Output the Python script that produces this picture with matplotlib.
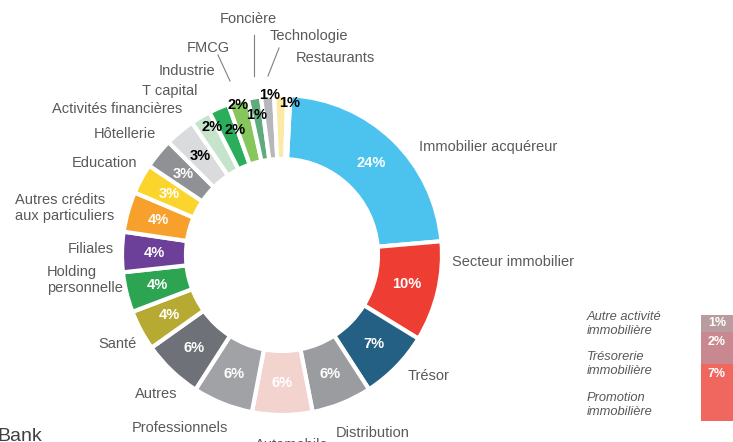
import numpy as np
import matplotlib.pyplot as plt

plt.rcParams["font.family"] = ["Liberation Sans", "DejaVu Sans"]

# Sector breakdown (clockwise from the top)
sectors = ["Immobilier acquéreur", "Secteur immobilier", "Trésor", "Distribution",
           "Automobile", "Professionnels", "Autres", "Santé", "Holding\npersonnelle",
           "Filiales", "Autres crédits\naux particuliers", "Education", "Hôtellerie",
           "Activités financières", "T capital", "Industrie", "FMCG", "Foncière",
           "Technologie", "Restaurants", ""]
shares = [22.5, 10, 7, 6, 6, 6, 6, 4, 4, 4, 4, 3, 3, 3, 2, 2, 2, 1.3, 1.3, 1.3, 0.3]
share_labels = ["24%", "10%", "7%", "6%", "6%", "6%", "6%", "4%", "4%", "4%", "4%",
                "3%", "3%", "3%", "2%", "2%", "2%", "1%", "1%", "1%", ""]
colors = ["#4CC3EF", "#EE3D32", "#236083", "#9B9CA0", "#F3D3CE", "#A0A2A5", "#6E7178",
          "#B6AA33", "#2CA452", "#6C3F99", "#F7A12C", "#FBD52B", "#8F9195", "#DADBDD",
          "#C6E4CB", "#2BAE5C", "#86C65D", "#5FAB7D", "#B6B7BB", "#FCE9A3", "#F2C14A"]

# Breakdown of the real-estate sector (side bar)
sub_labels = ["Autre activité\nimmobilière", "Trésorerie\nimmobilière", "Promotion\nimmobilière"]
sub_text = ["1%", "2%", "7%"]
sub_heights = [1.6, 3.0, 5.4]
sub_colors = ["#B99CA0", "#C98890", "#EF675F"]

W, H = 733, 442
fig = plt.figure(figsize=(W / 100, H / 100), dpi=100)
ax = fig.add_axes([0, 0, 1, 1])

cx, cy, R, ring = 282, H - 255, 160, 64
wedges, _ = ax.pie(shares, colors=colors, startangle=87, counterclock=False,
                   radius=R, center=(cx, cy),
                   wedgeprops=dict(width=ring, edgecolor="white", linewidth=3))
ax.set_xlim(0, W)
ax.set_ylim(0, H)
ax.set_aspect("equal")
ax.axis("off")

grey = "#595959"

# percentage labels inside the ring
dark_from = 13
manual_pct = {14: (212, 127), 15: (235, 130), 16: (238, 105), 17: (257, 115),
              18: (270, 95), 19: (290, 103)}
for i, (w, t) in enumerate(zip(wedges, share_labels)):
    if not t:
        continue
    if i in manual_pct:
        x, y = manual_pct[i][0], H - manual_pct[i][1]
    else:
        a = np.deg2rad((w.theta1 + w.theta2) / 2)
        x, y = cx + (R - ring / 2) * np.cos(a), cy + (R - ring / 2) * np.sin(a)
    ax.text(x, y, t, ha="center", va="center", fontsize=10.5, fontweight="bold",
            color="black" if i >= dark_from else "white")

# sector names around the ring (x, y, ha)
name_pos = [(419, 147, "left"), (452, 262, "left"), (408, 376, "left"),
            (336, 433, "left"), (292, 445, "center"), (180, 428, "center"),
            (156, 394, "center"), (137, 344, "right"), (47, 280, "left"),
            (114, 249, "right"), (15, 208, "left"), (137, 163, "right"),
            (156, 134, "right"), (182, 109, "right"), (198, 91, "right"),
            (215, 71, "right"), (230, 48, "right"), (248, 19, "center"),
            (270, 36, "left"), (296, 58, "left")]
for name, (x, y, ha) in zip(sectors, name_pos):
    ax.text(x, H - y, name, ha=ha, va="center", fontsize=10.5, color=grey,
            linespacing=1.25)

# leader lines for the smallest slices
for (x0, y0), (x1, y1) in [((218, 55), (230, 81)), ((254, 35), (254, 76)),
                           ((279, 48), (268, 76))]:
    ax.plot([x0, x1], [H - y0, H - y1], color="#7F7F7F", lw=0.8)

# side stacked bar
scale = 106 / sum(sub_heights)
top = H - 315
for lab, t, h, c, ly in zip(sub_labels, sub_text, sub_heights, sub_colors, [324, 364, 405]):
    hh = h * scale
    ax.bar(701, -hh, bottom=top, width=64, align="edge", color=c, edgecolor="none")
    ax.text(717, top - (10 if hh > 20 else hh / 2), t, ha="center", va="center",
            fontsize=9, fontweight="bold", color="white")
    ax.text(587, H - ly, lab, ha="left", va="center", fontsize=9.3,
            style="italic", color=grey, linespacing=1.15)
    top -= hh

ax.text(-3, H - 428, "Bank", ha="left", va="top", fontsize=14, color="#404040")

fig.savefig("out.png", dpi=100)
